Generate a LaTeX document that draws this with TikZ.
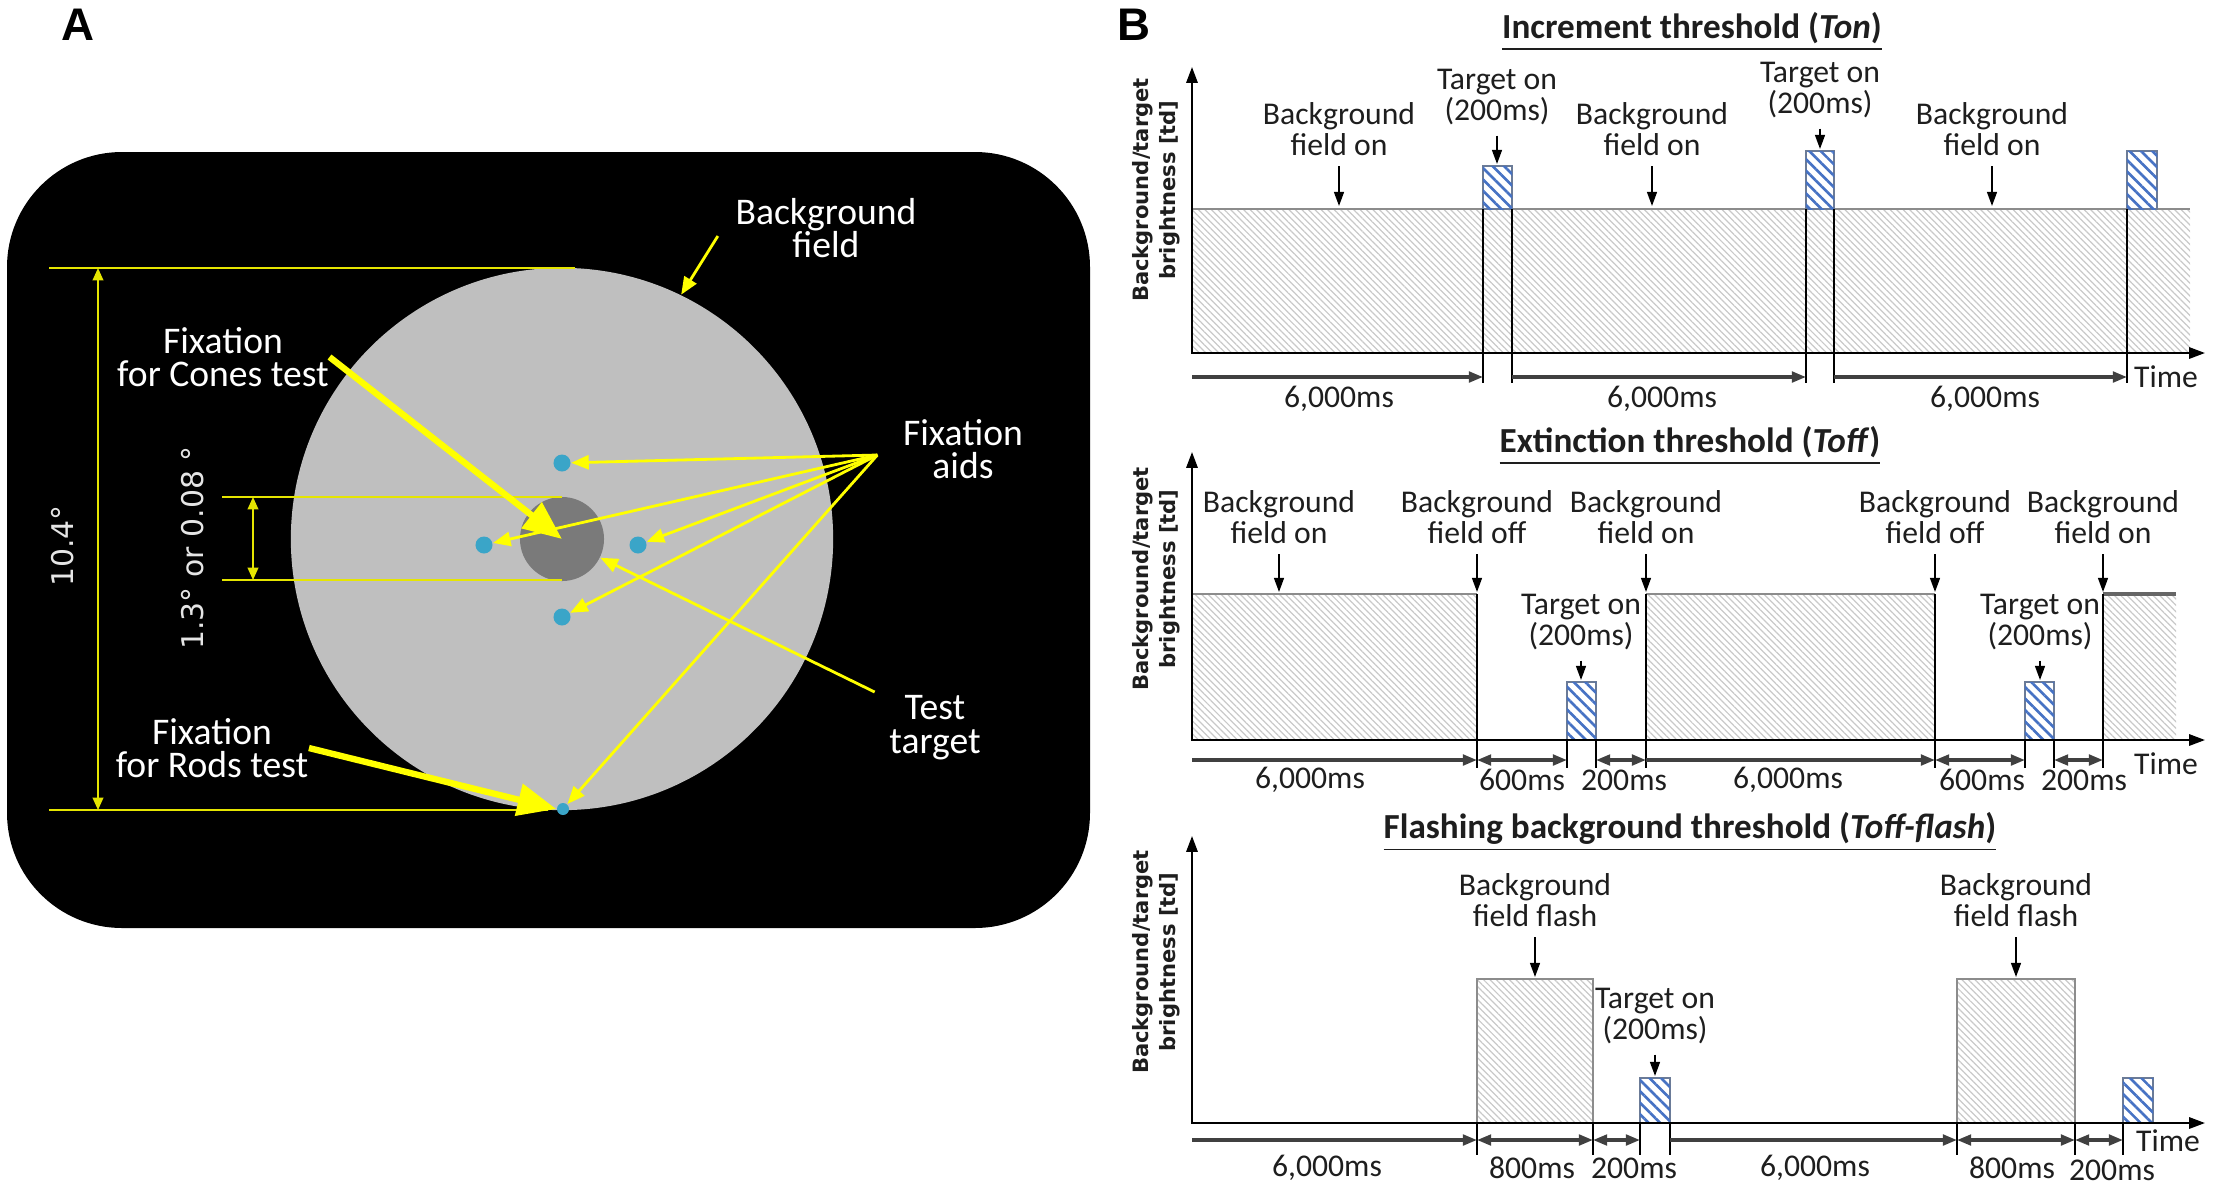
\documentclass[tikz,border=0pt]{standalone}
\usepackage{fontspec}
\setmainfont{Carlito}
\newfontfamily\degfont{DejaVu Sans}
\newfontfamily\panelfont{Liberation Sans}
\usetikzlibrary{arrows.meta,patterns.meta}

\definecolor{fixyellow}{RGB}{255,255,0}
\definecolor{fieldgray}{RGB}{191,191,191}
\definecolor{targetgray}{RGB}{122,122,122}
\definecolor{aidblue}{RGB}{58,165,200}
\definecolor{hatchblue}{RGB}{70,114,196}
\definecolor{inkgray}{RGB}{30,30,30}

\begin{document}
\begin{tikzpicture}[x=0.01cm, y=-0.01cm,
  panel/.style={font=\panelfont\bfseries\fontsize{13}{13}\selectfont},
  wlabel/.style={text=white, align=center, inner sep=0, font=\fontsize{10.7}{9.6}\selectfont},
  deglabel/.style={text=white!90!black, rotate=90, inner sep=0, font=\degfont\fontsize{8.5}{9}\selectfont},
  ythin/.style={draw=fixyellow, line width=0.8pt, -{Triangle[length=5pt,width=4pt]}},
  ythick/.style={draw=fixyellow, line width=1.8pt, -{Triangle[length=11pt,width=9pt]}},
  ydim/.style={draw=fixyellow!90!black, line width=0.55pt},
  ddim/.style={ydim, {Triangle[length=3.5pt,width=3pt]}-{Triangle[length=3.5pt,width=3pt]}},
  aid/.style={circle, fill=aidblue, inner sep=0, minimum size=0.17cm},
  plottitle/.style={font=\bfseries\fontsize{10}{12}\selectfont, text=inkgray, inner sep=0},
  note/.style={text=inkgray, align=center, inner sep=0, outer sep=3pt, font=\fontsize{9}{9}\selectfont},
  dur/.style={text=inkgray, inner sep=0, font=\fontsize{9}{9}\selectfont},
  ylab/.style={rotate=90, align=center, inner sep=0, text=inkgray, font=\degfont\bfseries\fontsize{6}{7.6}\selectfont},
  plotaxis/.style={line width=0.6pt, {Triangle[length=4.5pt,width=3.2pt]}-{Triangle[length=4.5pt,width=3.2pt]}},
  pointer/.style={line width=0.5pt, -{Triangle[length=4pt,width=2.8pt]}},
  spanarrow/.style={draw=black!75, line width=0.9pt, -{Triangle[length=4pt,width=3pt]}},
  twoway/.style={spanarrow, {Triangle[length=4pt,width=3pt]}-{Triangle[length=4pt,width=3pt]}},
  edgeline/.style={line width=0.6pt},
  bgfill/.style={pattern={Lines[angle=-45,distance=1.3pt,line width=0.35pt]}, pattern color=black!21},
  bglevel/.style={draw=black!45, line width=0.5pt},
  tgtbox/.style={draw=hatchblue!35!gray, line width=0.4pt, fill=white,
    postaction={pattern={Lines[angle=-45,distance=2.3pt,line width=0.75pt]}, pattern color=hatchblue}}]

\useasboundingbox (0,0) rectangle (2214,1190);

% panel A
\node[panel] (lblA) at (78,25) {A};
\fill[black, rounded corners=1.15cm] (7,152) rectangle (1090,928);
\node[circle, fill=fieldgray, inner sep=0, minimum size=5.42cm] (field) at (562,539) {};
\node[circle, fill=targetgray, inner sep=0, minimum size=0.84cm] (tgt) at (562,539) {};
\node[aid] (aidT) at (562,463) {};
\node[aid] (aidL) at (484,545) {};
\node[aid] (aidR) at (638,545) {};
\node[aid] (aidB) at (562,617) {};
\node[aid, minimum size=0.12cm] (rodsdot) at (563,809) {};

\draw[ydim] (49,268) -- (575,268);
\draw[ydim] (49,810) -- (548,810);
\draw[ddim] (98,268) -- (98,810);
\draw[ydim] (222,497) -- (562,497);
\draw[ydim] (222,580) -- (562,580);
\draw[ddim] (253,497) -- (253,580);

\node[deglabel] (wide) at (63,546) {10.4°};
\node[deglabel] (narrow) at (193,548) {1.3° or 0.08 °};
\node[wlabel] (bgfield) at (826,228) {Background\\field};
\node[wlabel] (cones) at (223,357) {Fixation\\for Cones test};
\node[wlabel] (rods) at (212,748) {Fixation\\for Rods test};
\node[wlabel] (aids) at (963,449) {Fixation\\aids};
\node[wlabel] (test) at (935,728) {Test\\target};
\coordinate (fan) at ([shift={(-25,6)}]aids.west);

\draw[ythin] ([shift={(-17,8)}]bgfield.west) -- (field.64);
\foreach \d in {aidT,aidL,aidR,aidB,rodsdot}
  \draw[ythin] (fan) -- (\d);
\draw[ythin] ([shift={(-14,-36)}]test.west) -- (tgt);
\draw[ythick] (cones.east) -- (tgt.center);
\draw[ythick] (rods.east) -- (rodsdot.west);

% panel B
\node[panel] (lblB) at (1134,25) {B};

% increment threshold
\node[plottitle] (title1) at (1692,32) {\underline{Increment threshold (\textit{Ton})}};
\path[bgfill] (1192,209) rectangle (2190,353);
\draw[bglevel] (1192,209) -- (2190,209);
\draw[tgtbox] (1483,166) rectangle (1512,209);
\draw[tgtbox] (1806,151) rectangle (1834,209);
\draw[tgtbox] (2127,151) rectangle (2157,209);
\foreach \x in {1483,1512,1806,1834,2127}
  \draw[edgeline] (\x,209) -- (\x,383);
\draw[plotaxis] (1192,67) -- (1192,353) -- (2205,353);
\draw[spanarrow] (1192,377) -- (1483,377);
\draw[spanarrow] (1512,377) -- (1806,377);
\draw[spanarrow] (1834,377) -- (2127,377);
\node[dur] (d11) at (1339,399) {6,000ms};
\node[dur] (d12) at (1662,399) {6,000ms};
\node[dur] (d13) at (1985,399) {6,000ms};
\node[dur] (time1) at (2166,377) {Time};
\node[ylab] (ylab1) at (1156,190) {Background/target\\brightness [td]};
\node[note] (on11) at (1339,129) {Background\\field on};
\node[note] (on12) at (1652,129) {Background\\field on};
\node[note] (on13) at (1992,129) {Background\\field on};
\node[note] (tg11) at (1497,97) {Target on\\(200ms)};
\node[note] (tg12) at (1820,90) {Target on\\(200ms)};
\draw[pointer] (on11) -- (1339,206);
\draw[pointer] (on12) -- (1652,206);
\draw[pointer] (on13) -- (1992,206);
\draw[pointer] (tg11) -- (1497,164);
\draw[pointer] (tg12) -- (1820,149);

% extinction threshold
\node[plottitle] (title2) at (1690,446) {\underline{Extinction threshold (\textit{Toff})}};
\path[bgfill] (1192,594) rectangle (1477,740);
\path[bgfill] (1646,594) rectangle (1935,740);
\path[bgfill] (2103,594) rectangle (2176,740);
\draw[bglevel] (1192,594) -- (1477,594);
\draw[bglevel] (1646,594) -- (1935,594);
\draw[bglevel, line width=0.9pt, draw=black!60] (2103,594) -- (2176,594);
\draw[tgtbox] (1567,682) rectangle (1596,740);
\draw[tgtbox] (2025,682) rectangle (2054,740);
\foreach \x in {1477,1646,1935,2103}
  \draw[edgeline] (\x,594) -- (\x,768);
\foreach \x in {1567,1596,2025,2054}
  \draw[edgeline] (\x,740) -- (\x,768);
\draw[plotaxis] (1192,452) -- (1192,740) -- (2205,740);
\draw[spanarrow] (1192,760) -- (1477,760);
\draw[twoway] (1477,760) -- (1567,760);
\draw[twoway] (1596,760) -- (1646,760);
\draw[spanarrow] (1646,760) -- (1935,760);
\draw[twoway] (1935,760) -- (2025,760);
\draw[twoway] (2054,760) -- (2103,760);
\node[dur] (d21) at (1310,780) {6,000ms};
\node[dur] (d22) at (1522,780) {600ms};
\node[dur] (d23) at (1624,780) {200ms};
\node[dur] (d24) at (1788,780) {6,000ms};
\node[dur] (d25) at (1982,780) {600ms};
\node[dur] (d26) at (2084,780) {200ms};
\node[dur] (time2) at (2166,764) {Time};
\node[ylab] (ylab2) at (1156,579) {Background/target\\brightness [td]};
\node[note] (on21) at (1279,517) {Background\\field on};
\node[note] (off21) at (1477,517) {Background\\field off};
\node[note] (on22) at (1646,517) {Background\\field on};
\node[note] (off22) at (1935,517) {Background\\field off};
\node[note] (on23) at (2103,517) {Background\\field on};
\node[note] (tg21) at (1581,622) {Target on\\(200ms)};
\node[note] (tg22) at (2040,622) {Target on\\(200ms)};
\draw[pointer] (on21) -- (1279,592);
\draw[pointer] (off21) -- (1477,592);
\draw[pointer] (on22) -- (1646,592);
\draw[pointer] (off22) -- (1935,592);
\draw[pointer] (on23) -- (2103,592);
\draw[pointer] (tg21) -- (1581,680);
\draw[pointer] (tg22) -- (2040,680);

% flashing background threshold
\node[plottitle] (title3) at (1690,832) {\underline{Flashing background threshold (\textit{Toff-flash})}};
\path[bgfill, bglevel] (1477,979) rectangle (1593,1123);
\path[bgfill, bglevel] (1957,979) rectangle (2075,1123);
\draw[tgtbox] (1640,1078) rectangle (1670,1123);
\draw[tgtbox] (2123,1078) rectangle (2153,1123);
\foreach \x in {1477,1593,1640,1670,1957,2075,2123}
  \draw[edgeline] (\x,1123) -- (\x,1155);
\draw[plotaxis] (1192,836) -- (1192,1123) -- (2205,1123);
\draw[spanarrow] (1192,1140) -- (1477,1140);
\draw[twoway] (1477,1140) -- (1593,1140);
\draw[twoway] (1593,1140) -- (1640,1140);
\draw[spanarrow] (1670,1140) -- (1957,1140);
\draw[twoway] (1957,1140) -- (2075,1140);
\draw[twoway] (2075,1140) -- (2123,1140);
\node[dur] (d31) at (1327,1168) {6,000ms};
\node[dur] (d32) at (1532,1168) {800ms};
\node[dur] (d33) at (1634,1168) {200ms};
\node[dur] (d34) at (1815,1168) {6,000ms};
\node[dur] (d35) at (2012,1168) {800ms};
\node[dur] (d36) at (2112,1170) {200ms};
\node[dur] (time3) at (2168,1141) {Time};
\node[ylab] (ylab3) at (1156,962) {Background/target\\brightness [td]};
\node[note] (fl31) at (1535,900) {Background\\field flash};
\node[note] (fl32) at (2016,900) {Background\\field flash};
\node[note] (tg31) at (1655,1016) {Target on\\(200ms)};
\draw[pointer] (fl31) -- (1535,977);
\draw[pointer] (fl32) -- (2016,977);
\draw[pointer] (tg31) -- (1655,1076);

\end{tikzpicture}
\end{document}
